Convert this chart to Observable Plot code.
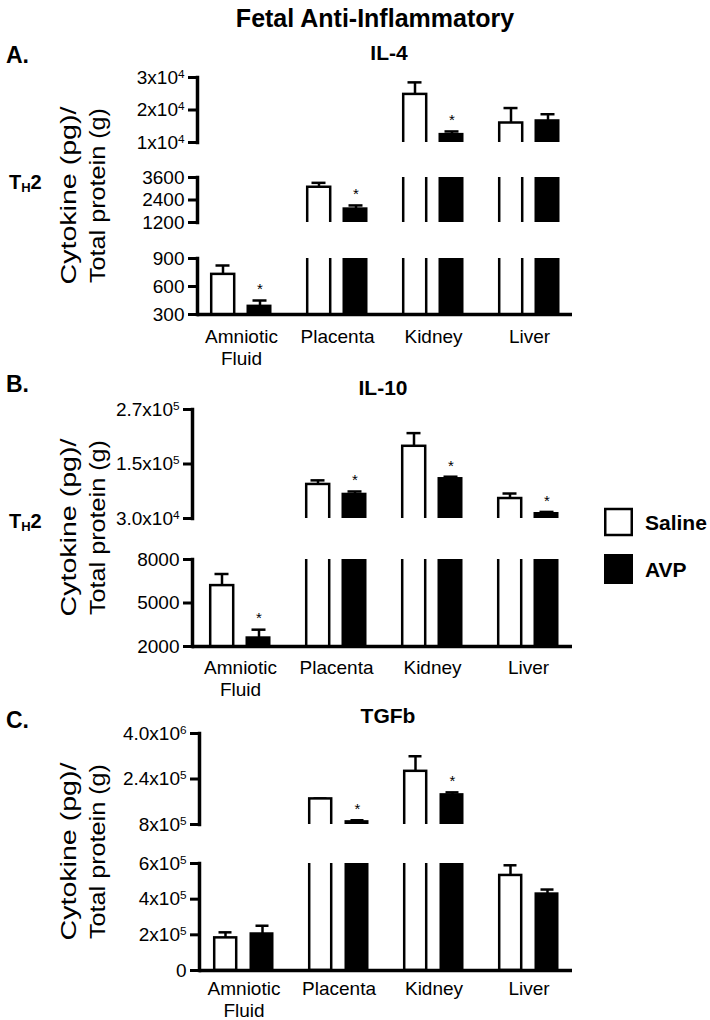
<!DOCTYPE html>
<html><head><meta charset="utf-8">
<script src="https://cdn.jsdelivr.net/npm/d3@7"></script>
<script src="https://cdn.jsdelivr.net/npm/@observablehq/plot@0.6"></script>
<style>
body{margin:0;background:#fff;}
#chart{position:relative;width:710px;height:1020px;overflow:hidden;background:#fff;font-family:"Liberation Sans",Arial,Helvetica,sans-serif;color:#000;}
#chart > svg{position:absolute;left:0;}
</style></head><body><div id="chart"></div>
<script>
// ---------- data ----------
const categories = ["Amniotic Fluid", "Placenta", "Kidney", "Liver"];
const groups = ["Saline", "AVP"];

// IL-4
const il4Saline    = [730, 3080, 24800, 16000];
const il4SalineSem = [95, 235, 3700, 4600];
const il4Avp       = [390, 1930, 12500, 16700];
const il4AvpSem    = [60, 180, 900, 2000];
const il4Sig       = [true, true, true, false];
const il4TicksHigh = [10000, 20000, 30000];
const il4LabelsHigh = ["1x10^4", "2x10^4", "3x10^4"];
const il4TicksMid = [1200, 2400, 3600];
const il4LabelsMid = ["1200", "2400", "3600"];
const il4TicksLow = [300, 600, 900];
const il4LabelsLow = ["300", "600", "900"];

// IL-10
const il10Saline    = [6200, 105000, 189000, 74000];
const il10SalineSem = [800, 9000, 29000, 11000];
const il10Avp       = [2600, 83500, 118000, 41000];
const il10AvpSem    = [560, 6000, 4000, 3500];
const il10Sig       = [true, true, true, true];
const il10TicksHigh = [30000, 150000, 270000];
const il10LabelsHigh = ["3.0x10^4", "1.5x10^5", "2.7x10^5"];
const il10TicksLow = [2000, 5000, 8000];
const il10LabelsLow = ["2000", "5000", "8000"];

// TGFb
const tgfbSaline    = [183000, 1700000, 2670000, 533000];
const tgfbSalineSem = [31000, 15000, 530000, 57000];
const tgfbAvp       = [206000, 900000, 1850000, 430000];
const tgfbAvpSem    = [45000, 50000, 80000, 24000];
const tgfbSig       = [false, true, true, false];
const tgfbTicksHigh = [800000, 2400000, 4000000];
const tgfbLabelsHigh = ["8x10^5", "2.4x10^5", "4.0x10^6"];
const tgfbTicksLow = [0, 200000, 400000, 600000];
const tgfbLabelsLow = ["0", "2x10^5", "4x10^5", "6x10^5"];

// ---------- helpers ----------
function rows(saline, salineSem, avp, avpSem, sig) {
  return categories.flatMap((c, i) => [
    {category: c, group: groups[0], mean: saline[i], sem: salineSem[i], sig: false},
    {category: c, group: groups[1], mean: avp[i], sem: avpSem[i], sig: sig[i]}
  ]);
}

const FONT = '"Liberation Sans", Arial, Helvetica, sans-serif';
const W = 600;
const root = document.getElementById("chart");

const panels = [
  {data: rows(il4Saline, il4SalineSem, il4Avp, il4AvpSem, il4Sig), axisX: 197, xRange: [197, 572], labelPad: 13,
   segments: [
     {ticks: il4TicksHigh, labels: il4LabelsHigh, top: 77, bottom: 142},
     {ticks: il4TicksMid, labels: il4LabelsMid, top: 177, bottom: 222},
     {ticks: il4TicksLow, labels: il4LabelsLow, top: 258, bottom: 314}
   ]},
  {data: rows(il10Saline, il10SalineSem, il10Avp, il10AvpSem, il10Sig), axisX: 192, xRange: [197, 571], labelPad: 11.5,
   segments: [
     {ticks: il10TicksHigh, labels: il10LabelsHigh, top: 409, bottom: 518},
     {ticks: il10TicksLow, labels: il10LabelsLow, top: 559, bottom: 646}
   ]},
  {data: rows(tgfbSaline, tgfbSalineSem, tgfbAvp, tgfbAvpSem, tgfbSig), axisX: 199, xRange: [200, 573], labelPad: 9,
   segments: [
     {ticks: tgfbTicksHigh, labels: tgfbLabelsHigh, top: 733, bottom: 824},
     {ticks: tgfbTicksLow, labels: tgfbLabelsLow, top: 863, bottom: 970}
   ]}
];

function supify(svg) {
  svg.querySelectorAll("text").forEach(t => {
    const s = t.textContent;
    if (s.includes("^")) {
      const [base, exp] = s.split("^");
      t.textContent = base;
      const ts = document.createElementNS("http://www.w3.org/2000/svg", "tspan");
      ts.setAttribute("dy", "-0.5em");
      ts.setAttribute("font-size", "0.62em");
      ts.textContent = exp;
      t.appendChild(ts);
    }
  });
}

panels.forEach(panel => {
  const saline = panel.data.filter(d => d.group === "Saline");
  const avp = panel.data.filter(d => d.group === "AVP");
  panel.segments.forEach((s, si) => {
    const isBottom = si === panel.segments.length - 1;
    const mt = 12, mb = isBottom ? 60 : 12;
    const h = s.bottom - s.top;
    const domain = [d3.min(s.ticks), d3.max(s.ticks)];
    const inSeg = d => d.mean + d.sem >= domain[0] && d.mean + d.sem <= domain[1];
    const labelOf = new Map(s.ticks.map((t, i) => [t, s.labels[i]]));
    const marks = [
      Plot.ruleX(saline, {x: "category", y1: "mean", y2: d => d.mean + d.sem, dx: -18.5, stroke: "black", strokeWidth: 2.5, clip: true}),
      Plot.tickY(saline, {x: "category", y: d => d.mean + d.sem, insetLeft: 5.5, insetRight: 42.5, stroke: "black", strokeWidth: 2.5, clip: true}),
      Plot.ruleX(avp, {x: "category", y1: "mean", y2: d => d.mean + d.sem, dx: 18.5, stroke: "black", strokeWidth: 2.5, clip: true}),
      Plot.tickY(avp, {x: "category", y: d => d.mean + d.sem, insetLeft: 42.5, insetRight: 5.5, stroke: "black", strokeWidth: 2.5, clip: true}),
      Plot.barY(saline, {x: "category", y1: 0, y2: "mean", fill: "white", stroke: "black", strokeWidth: 2.5, insetLeft: 1.2, insetRight: 37.8, clip: true}),
      Plot.barY(avp, {x: "category", y1: 0, y2: "mean", fill: "black", stroke: "black", strokeWidth: 2, insetLeft: 37.5, insetRight: 1.5, clip: true}),
      Plot.text(avp.filter(d => d.sig && inSeg(d)), {x: "category", y: d => d.mean + d.sem, text: () => "*", dx: 18.5, dy: -11, fontSize: 15, fill: "black"}),
      Plot.frame({anchor: "left", stroke: "black", strokeWidth: 3.5}),
      Plot.axisY({ticks: s.ticks, tickFormat: d => labelOf.get(d), tickSize: 9, tickPadding: 4, fontSize: 19, stroke: "black", strokeWidth: 3, label: null})
    ];
    if (isBottom) {
      marks.push(Plot.ruleY([domain[0]], {stroke: "black", strokeWidth: 3.5}));
      marks.push(Plot.axisX({tickSize: 0, tickPadding: panel.labelPad, fontSize: 19, lineHeight: 1.16, label: null, tickFormat: d => d.replace(" ", "\n")}));
    }
    const svg = Plot.plot({
      width: W, height: h + mt + mb,
      marginTop: mt, marginBottom: mb, marginLeft: panel.axisX, marginRight: W - 572,
      x: {domain: categories, range: panel.xRange, paddingInner: 0.356, paddingOuter: 0.125, ...(isBottom ? {} : {axis: null})},
      y: {domain},
      style: {background: "transparent", overflow: "visible", fontFamily: FONT, color: "black"},
      marks
    });
    supify(svg);
    svg.style.top = (s.top - mt) + "px";
    root.appendChild(svg);
  });
});

// ---------- text overlay & legend ----------
const ov = d3.create("svg").attr("width", 710).attr("height", 1020)
  .style("pointer-events", "none").style("top", "0px").style("font-family", FONT);

function txt(x, y, s, size, weight, anchor) {
  return ov.append("text").attr("x", x).attr("y", y).attr("font-size", size)
    .attr("font-weight", weight || "normal").attr("text-anchor", anchor || "middle")
    .attr("dominant-baseline", "central").attr("fill", "black").text(s);
}
txt(375, 18, "Fetal Anti-Inflammatory", 25, "bold");
[["A.", 55], ["B.", 384], ["C.", 720]].forEach(([s, y]) => txt(6, y, s, 23, "bold", "start"));
txt(389, 52, "IL-4", 21, "bold");
txt(383, 387, "IL-10", 21, "bold");
txt(388, 715, "TGFb", 21, "bold");

[182, 521].forEach(y => {
  const t = txt(9, y, "T", 20, "bold", "start");
  t.append("tspan").attr("font-size", "0.65em").attr("dy", "0.35em").text("H");
  t.append("tspan").attr("dy", "-0.23em").text("2");
});

const panelMid = [195.5, 527.5, 851.5];
panelMid.forEach(cy => {
  ov.append("text").attr("transform", `translate(76,${cy}) rotate(-90)`).attr("text-anchor", "middle")
    .attr("font-size", 22).attr("textLength", 178).attr("lengthAdjust", "spacingAndGlyphs").text("Cytokine (pg)/");
  ov.append("text").attr("transform", `translate(105,${cy}) rotate(-90)`).attr("text-anchor", "middle")
    .attr("font-size", 22).attr("textLength", 175).attr("lengthAdjust", "spacingAndGlyphs").text("Total protein (g)");
});

// legend
ov.append("rect").attr("x", 605.25).attr("y", 509).attr("width", 26.5).attr("height", 26)
  .attr("fill", "white").attr("stroke", "black").attr("stroke-width", 2.5);
ov.append("rect").attr("x", 604).attr("y", 554).attr("width", 29).attr("height", 30).attr("fill", "black");
txt(645, 522, groups[0], 21, "bold", "start");
txt(645, 569, groups[1], 21, "bold", "start");

root.appendChild(ov.node());
</script></body></html>
